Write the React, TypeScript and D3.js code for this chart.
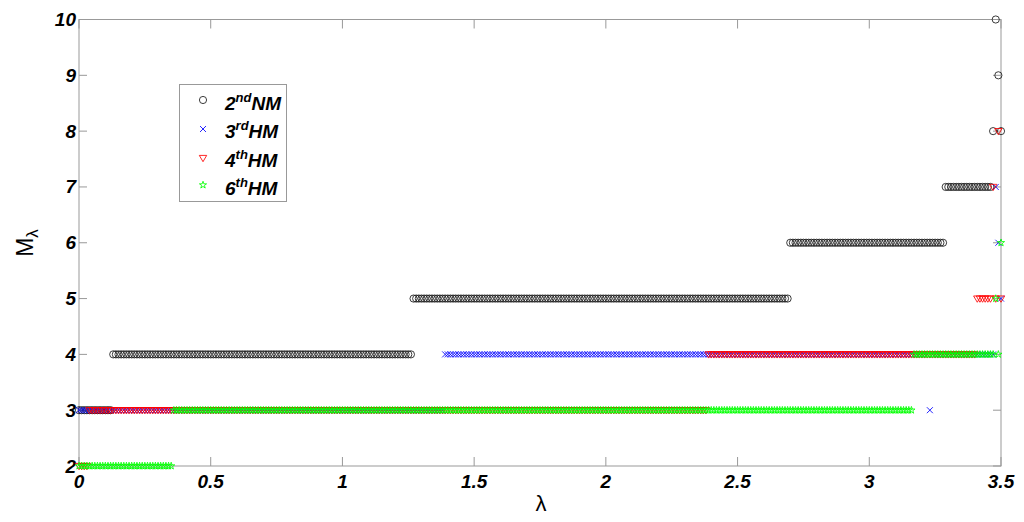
import React from "react";
import * as d3 from "d3";

// λ sample grid step (the data are sampled on this grid)
const LAMBDA_STEP = 0.01;

// Run-length encoded series: [λ start, λ end, M value]
const nmRuns: [number, number, number][] = [
  [0.0, 0.12, 3],
  [0.13, 1.26, 4],
  [1.27, 2.69, 5],
  [2.7, 3.28, 6],
  [3.29, 3.46, 7],
  [3.47, 3.47, 8],
  [3.48, 3.48, 10],
  [3.49, 3.49, 9],
  [3.5, 3.5, 8],
];
const hm3Runs: [number, number, number][] = [
  [0.0, 1.38, 3],
  [1.39, 3.22, 4],
  [3.23, 3.23, 3],
  [3.24, 3.47, 4],
  [3.48, 3.48, 7],
  [3.49, 3.49, 6],
  [3.5, 3.5, 5],
];
const hm4Runs: [number, number, number][] = [
  [0.0, 0.03, 2],
  [0.04, 2.38, 3],
  [2.39, 3.4, 4],
  [3.41, 3.46, 5],
  [3.47, 3.47, 7],
  [3.48, 3.48, 5],
  [3.49, 3.49, 8],
  [3.5, 3.5, 5],
];
const hm6Runs: [number, number, number][] = [
  [0.0, 0.35, 2],
  [0.36, 3.16, 3],
  [3.17, 3.47, 4],
  [3.48, 3.48, 5],
  [3.49, 3.49, 4],
  [3.5, 3.5, 6],
];

const xTicks = [0, 0.5, 1, 1.5, 2, 2.5, 3, 3.5];
const yTicks = [2, 3, 4, 5, 6, 7, 8, 9, 10];
const legendLabels = [
  { num: "2", sup: "nd", rest: "NM" },
  { num: "3", sup: "rd", rest: "HM" },
  { num: "4", sup: "th", rest: "HM" },
  { num: "6", sup: "th", rest: "HM" },
];

function expand(runs: [number, number, number][]) {
  const pts: { x: number; y: number }[] = [];
  for (const [a, b, m] of runs) {
    const i0 = Math.round(a / LAMBDA_STEP);
    const i1 = Math.round(b / LAMBDA_STEP);
    for (let i = i0; i <= i1; i++) pts.push({ x: i * LAMBDA_STEP, y: m });
  }
  return pts;
}

const FONT = "'Liberation Sans', Arial, Helvetica, sans-serif";

const circlePath = d3.symbol(d3.symbolCircle, Math.PI * 3.6 * 3.6)() as string;
const xPath = "M-3,-3L3,3M-3,3L3,-3";
const triPath = "M-3.7,-2.6L3.7,-2.6L0,3.7Z";
const starPath = d3.symbol(d3.symbolStar, 16)() as string;

const seriesDefs = [
  { runs: nmRuns, path: circlePath, color: "#1a1a1a" },
  { runs: hm3Runs, path: xPath, color: "#0000ff" },
  { runs: hm4Runs, path: triPath, color: "#ff0000" },
  { runs: hm6Runs, path: starPath, color: "#00ff00" },
];

export default function App() {
  const L = 79, R = 1001, T = 19.5, B = 466;
  const x = d3.scaleLinear().domain([0, 3.5]).range([L, R]);
  const y = d3.scaleLinear().domain([2, 10]).range([B, T]);
  const grey = "#999";

  return (
    <svg
      width={1024}
      height={522}
      style={{ position: "absolute", left: 0, top: 0, background: "#fff" }}
      fontFamily={FONT}
    >
      <rect x={0} y={0} width={1024} height={522} fill="#fff" />
      {/* box */}
      <rect x={L} y={T} width={R - L} height={B - T} fill="none" stroke={grey} strokeWidth={1} />
      {/* ticks */}
      {yTicks.map((t) => (
        <g key={"yt" + t}>
          <line x1={L} x2={L + 8} y1={y(t)} y2={y(t)} stroke={grey} />
          <line x1={R} x2={R - 8} y1={y(t)} y2={y(t)} stroke={grey} />
          <text
            x={L - 3}
            y={y(t)}
            textAnchor="end"
            dominantBaseline="central"
            fontSize={19}
            fontWeight="bold"
            fontStyle="italic"
          >
            {t}
          </text>
        </g>
      ))}
      {xTicks.map((t) => (
        <g key={"xt" + t}>
          <line x1={x(t)} x2={x(t)} y1={B} y2={B - 9} stroke={grey} />
          <line x1={x(t)} x2={x(t)} y1={T} y2={T + 9} stroke={grey} />
          <text
            x={x(t)}
            y={488}
            textAnchor="middle"
            fontSize={19}
            fontWeight="bold"
            fontStyle="italic"
          >
            {t}
          </text>
        </g>
      ))}
      {/* data */}
      {seriesDefs.map((s, si) => (
        <g key={"s" + si} fill="none" stroke={s.color} strokeWidth={0.85}>
          {expand(s.runs).map((p, i) => (
            <path key={i} d={s.path} transform={`translate(${x(p.x)},${y(p.y)})`} />
          ))}
        </g>
      ))}
      {/* axis labels */}
      <text x={541} y={511} textAnchor="middle" fontSize={22}>
        λ
      </text>
      <text transform="translate(33,243) rotate(-90)" textAnchor="middle" fontSize={23}>
        <tspan>M</tspan>
        <tspan fontSize={17} dy={5}>λ</tspan>
      </text>
      {/* legend */}
      <rect x={179.5} y={84.5} width={107} height={117} fill="#fff" stroke={grey} />
      {legendLabels.map((lab, i) => {
        const my = [100, 129, 158, 185][i];
        const ty = 110 + i * 28.3;
        const s = seriesDefs[i];
        return (
          <g key={"lg" + i}>
            <path
              d={s.path}
              transform={`translate(203,${my})`}
              fill="none"
              stroke={s.color}
              strokeWidth={0.85}
            />
            <text x={225} y={ty} fontSize={19} fontWeight="bold" fontStyle="italic">
              <tspan>{lab.num}</tspan>
              <tspan fontSize={13} dy={-8}>{lab.sup}</tspan>
              <tspan dy={8}>{lab.rest}</tspan>
            </text>
          </g>
        );
      })}
    </svg>
  );
}
